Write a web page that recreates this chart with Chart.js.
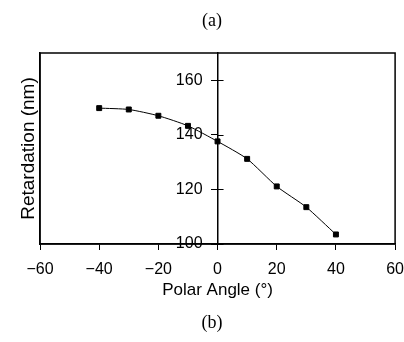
<!DOCTYPE html>
<html>
<head>
<meta charset="utf-8">
<script src="https://cdn.jsdelivr.net/npm/chart.js@4/dist/chart.umd.min.js"></script>
<style>
  html, body { margin: 0; padding: 0; background: #fff; }
</style>
</head>
<body>
<canvas id="chart" width="404" height="342"></canvas>
<script>
const angles = [-40, -30, -20, -10, 0, 10, 20, 30, 40];
const retardation = [149.8, 149.3, 147, 143.3, 137.6, 131.2, 121.1, 113.5, 103.5];
const yTicks = [100, 120, 140, 160];

const sans = "'Liberation Sans', Arial, sans-serif";
const serif = "'Liberation Serif', 'Times New Roman', serif";

// box around the plot + right half of the "+" ticks on the centre axis
const framePlugin = {
  id: 'frame',
  afterDraw(chart) {
    const { ctx, chartArea: a, scales } = chart;
    ctx.save();
    ctx.strokeStyle = '#000';
    ctx.lineWidth = 1.5;
    ctx.strokeRect(a.left, a.top, a.right - a.left, a.bottom - a.top);
    const x0 = scales.x.getPixelForValue(0);
    ctx.lineWidth = 1;
    ctx.beginPath();
    yTicks.forEach(v => {
      const py = Math.round(scales.y.getPixelForValue(v)) + 0.5;
      ctx.moveTo(x0, py);
      ctx.lineTo(x0 + 6, py);
    });
    ctx.stroke();
    ctx.restore();
  }
};

new Chart(document.getElementById('chart'), {
  type: 'line',
  data: {
    datasets: [{
      data: angles.map((a, i) => ({ x: a, y: retardation[i] })),
      borderColor: '#000',
      borderWidth: 1,
      backgroundColor: '#000',
      pointStyle: 'rect',
      pointRadius: 3.5,
      tension: 0.2
    }]
  },
  options: {
    responsive: false,
    animation: false,
    layout: { padding: { left: 25, right: 5 } },
    plugins: {
      legend: { display: false },
      tooltip: { enabled: false },
      title: {
        display: true,
        text: '(a)',
        color: '#000',
        font: { family: serif, size: 18, weight: 'normal' },
        padding: { top: 10, bottom: 21.4 }
      },
      subtitle: {
        display: true,
        position: 'bottom',
        text: '(b)',
        color: '#000',
        font: { family: serif, size: 18, weight: 'normal' },
        padding: { top: 13.7, bottom: 8.2 }
      }
    },
    scales: {
      x: {
        type: 'linear',
        min: -60,
        max: 60,
        ticks: {
          stepSize: 20,
          color: '#000',
          padding: 0,
          font: { family: sans, size: 16, lineHeight: 2.5 },
          callback: v => String(v).replace('-', '\u2212')
        },
        grid: { drawOnChartArea: false, drawTicks: true, tickLength: 6, color: '#000' },
        border: { display: true, color: '#000', width: 1.5 },
        title: {
          display: true,
          text: 'Polar Angle (\u00b0)',
          color: '#000',
          font: { family: sans, size: 17, lineHeight: 1 },
          padding: { top: -8.5, bottom: 0 }
        }
      },
      y: {
        type: 'linear',
        position: 'center',
        min: 100,
        max: 170,
        afterBuildTicks: s => { s.ticks = yTicks.map(v => ({ value: v })); },
        ticks: {
          color: '#000',
          padding: 9,
          font: { family: sans, size: 16 }
        },
        grid: { drawOnChartArea: false, drawTicks: true, tickLength: 6, color: '#000' },
        border: { display: true, color: '#000', width: 1.5 }
      },
      yLeft: {
        type: 'linear',
        position: 'left',
        min: 100,
        max: 170,
        ticks: { display: false },
        grid: { display: false, drawTicks: false },
        border: { display: true, color: '#000', width: 1.5 },
        title: {
          display: true,
          text: 'Retardation (nm)',
          color: '#000',
          font: { family: sans, size: 19, lineHeight: 1 },
          padding: { top: -5.5, bottom: 1.5 }
        }
      }
    }
  },
  plugins: [framePlugin]
});
</script>
</body>
</html>
